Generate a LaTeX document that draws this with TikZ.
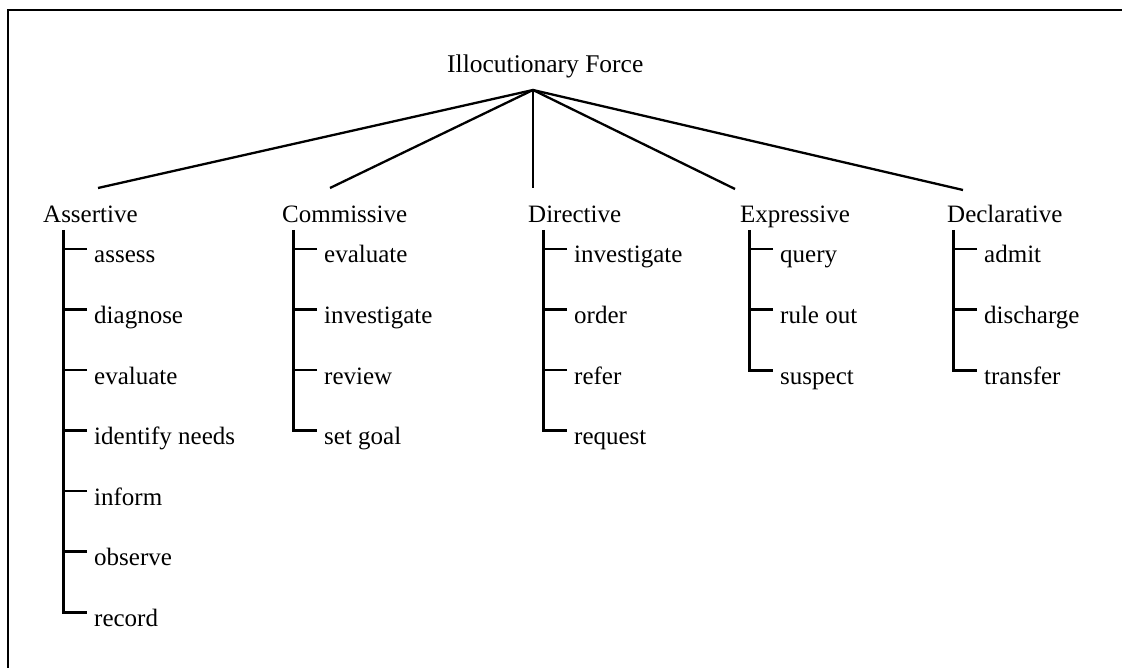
\documentclass[tikz,border=0pt]{standalone}
\usepackage{fontspec}
\setmainfont{Liberation Serif}
\usetikzlibrary{calc}
\tikzset{
  lbl/.style={anchor=base west, inner sep=0pt, font=\fontsize{25}{25}\selectfont},
  ttl/.style={anchor=base west, inner sep=0pt, font=\fontsize{25.5}{25.5}\selectfont},
  fan/.style={line width=2.3pt},
  trunk/.style={line width=3pt},
  tick/.style={line width=2.2pt},
  frame/.style={line width=2.6pt}
}
\begin{document}
\begin{tikzpicture}[x=1pt,y=-1pt]
\useasboundingbox (0,0) rectangle (1122,668);
\draw[frame] (8,668) -- (8,10) -- (1122,10);

\node[ttl] (root) at (447,73) {Illocutionary Force};
\coordinate (apex) at (533,90);

\node[lbl] (A) at (43,223) {Assertive};
\node[lbl] (C) at (282,223) {Commissive};
\node[lbl] (D) at (528,223) {Directive};
\node[lbl] (E) at (740,223) {Expressive};
\node[lbl] (L) at (947,223) {Declarative};

\coordinate (Ain) at (98,188);
\coordinate (Cin) at (330,188);
\coordinate (Din) at (533,188);
\coordinate (Ein) at (735,189);
\coordinate (Lin) at (963,190);
\foreach \t in {Ain,Cin,Din,Ein,Lin} \draw[fan] (apex) -- (\t);

% items
\foreach \w [count=\i] in {assess,diagnose,evaluate,identify needs,inform,observe,record}
  \node[lbl] (A\i) at (94,{263+60.5*(\i-1)}) {\w};
\foreach \w [count=\i] in {evaluate,investigate,review,set goal}
  \node[lbl] (C\i) at (324,{263+60.5*(\i-1)}) {\w};
\foreach \w [count=\i] in {investigate,order,refer,request}
  \node[lbl] (D\i) at (574,{263+60.5*(\i-1)}) {\w};
\foreach \w [count=\i] in {query,rule out,suspect}
  \node[lbl] (E\i) at (780,{263+60.5*(\i-1)}) {\w};
\foreach \w [count=\i] in {admit,discharge,transfer}
  \node[lbl] (L\i) at (984,{263+60.5*(\i-1)}) {\w};

% trunks with elbow to last item
\coordinate (At) at (63,230);
\coordinate (Ct) at (293,230);
\coordinate (Dt) at (543,230);
\coordinate (Et) at (749,230);
\coordinate (Lt) at (953,230);
\draw[trunk] (At) |- ($(A7.base west)+(-7,-14)$);
\draw[trunk] (Ct) |- ($(C4.base west)+(-7,-14)$);
\draw[trunk] (Dt) |- ($(D4.base west)+(-7,-14)$);
\draw[trunk] (Et) |- ($(E3.base west)+(-7,-14)$);
\draw[trunk] (Lt) |- ($(L3.base west)+(-7,-14)$);

% ticks
\foreach \i in {1,...,6} \draw[tick] ($(A\i.base west)+(-7,-14)$) -- ++(-24,0);
\foreach \i in {1,...,3} \draw[tick] ($(C\i.base west)+(-7,-14)$) -- ++(-24,0);
\foreach \i in {1,...,3} \draw[tick] ($(D\i.base west)+(-7,-14)$) -- ++(-24,0);
\foreach \i in {1,2} \draw[tick] ($(E\i.base west)+(-7,-14)$) -- ++(-24,0);
\foreach \i in {1,2} \draw[tick] ($(L\i.base west)+(-7,-14)$) -- ++(-24,0);
\end{tikzpicture}
\end{document}
